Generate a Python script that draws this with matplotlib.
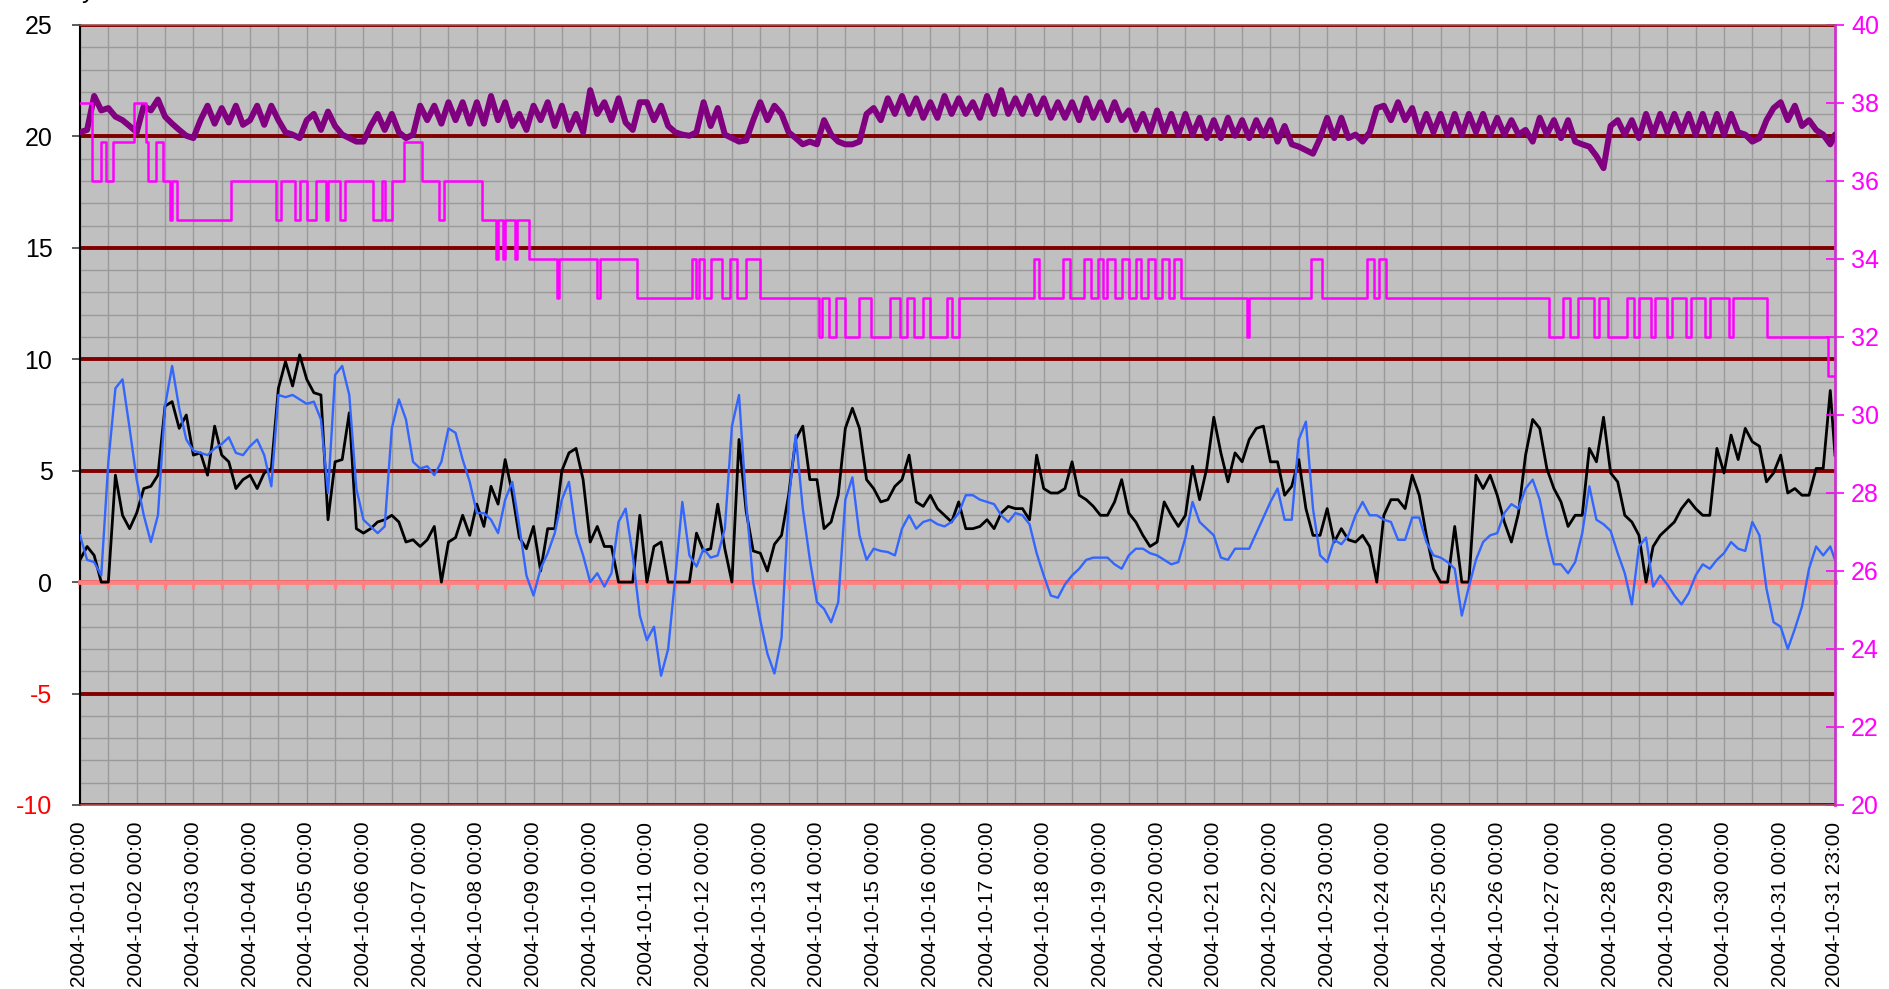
import numpy as np
import matplotlib
matplotlib.use('Agg')
import matplotlib.pyplot as plt
from matplotlib.ticker import MultipleLocator, FixedLocator
import pandas as pd

plt.rcParams['font.family'] = ['Liberation Sans', 'DejaVu Sans']

# ---------------- data (hours since 2004-10-01 00:00) ----------------
hours = list(range(0, 744, 3)) + [743]

black = [1.0, 1.6, 1.2, 0, 0, 4.8, 3.0, 2.4, 3.1, 4.2, 4.3, 4.8, 7.9, 8.1, 6.9, 7.5, 5.7, 5.8, 4.8, 7.0,
         5.7, 5.4, 4.2, 4.6, 4.8, 4.2, 4.9, 5.1, 8.7, 9.9, 8.8, 10.2, 9.1, 8.5, 8.4, 2.8, 5.4, 5.5, 7.6, 2.4,
         2.2, 2.4, 2.7, 2.8, 3.0, 2.7, 1.8, 1.9, 1.6, 1.9,
         2.5, 0, 1.8, 2.0, 3.0, 2.1, 3.5, 2.5, 4.3, 3.5, 5.5, 4.0, 2.0, 1.5, 2.5, 0.5, 2.4, 2.4, 5.0, 5.8,
         6.0, 4.6, 1.8, 2.5, 1.6, 1.6, 0, 0, 0, 3.0, 0, 1.6, 1.8, 0, 0, 0, 0, 2.2, 1.4, 1.5,
         3.5, 1.5, 0, 6.4, 3.2, 1.4, 1.3, 0.5, 1.7,
         2.1, 3.9, 6.4, 7.0, 4.6, 4.6, 2.4, 2.7, 3.9, 6.9, 7.8, 6.9, 4.6, 4.2, 3.6, 3.7, 4.3, 4.6, 5.7, 3.6,
         3.4, 3.9, 3.3, 3.0, 2.7, 3.6, 2.4, 2.4, 2.5, 2.8, 2.4, 3.1, 3.4, 3.3, 3.3, 2.8, 5.7, 4.2, 4.0, 4.0,
         4.2, 5.4, 3.9, 3.7, 3.4, 3.0, 3.0, 3.6, 4.6, 3.1,
         2.7, 2.1, 1.6, 1.8, 3.6, 3.0, 2.5, 3.0, 5.2, 3.7, 5.1, 7.4, 5.8, 4.5, 5.8, 5.4, 6.4, 6.9, 7.0, 5.4,
         5.4, 3.9, 4.3, 5.5, 3.3, 2.1, 2.1, 3.3, 1.8, 2.4, 1.9, 1.8, 2.1, 1.6, 0, 3.0, 3.7, 3.7, 3.3, 4.8,
         3.9, 2.1, 0.6, 0, 0, 2.5, 0, 0, 4.8,
         4.2, 4.8, 3.9, 2.7, 1.8, 3.1, 5.7, 7.3, 6.9, 5.1, 4.2, 3.6, 2.5, 3.0, 3.0, 6.0, 5.4, 7.4, 4.9, 4.5,
         3.0, 2.7, 2.1, 0, 1.6, 2.1, 2.4, 2.7, 3.3, 3.7, 3.3, 3.0, 3.0, 6.0, 4.9, 6.6, 5.5, 6.9, 6.3, 6.1,
         4.5, 4.9, 5.7, 4.0, 4.2, 3.9, 3.9, 5.1, 5.1, 8.6, 5.7]

blue = [2.1, 1.0, 0.9, 0.3, 5.4, 8.7, 9.1, 6.9, 4.6, 3.0, 1.8, 3.0, 7.9, 9.7, 7.8, 6.4, 5.9, 5.8, 5.7, 6.0,
        6.2, 6.5, 5.8, 5.7, 6.1, 6.4, 5.7, 4.3, 8.4, 8.3, 8.4, 8.2, 8.0, 8.1, 7.3, 4.0, 9.3, 9.7, 8.4, 4.2,
        2.8, 2.5, 2.2, 2.5, 6.9, 8.2, 7.3, 5.4, 5.1, 5.2,
        4.8, 5.4, 6.9, 6.7, 5.5, 4.5, 3.1, 3.1, 2.8, 2.2, 3.7, 4.5, 2.5, 0.3, -0.6, 0.6, 1.3, 2.2, 3.7, 4.5,
        2.2, 1.2, 0.0, 0.4, -0.2, 0.4, 2.7, 3.3, 1.2, -1.5, -2.6, -2.0, -4.2, -3.0, 0.2, 3.6, 1.2, 0.7, 1.5, 1.1,
        1.2, 2.4, 7.0, 8.4, 3.6, 0.0, -1.7, -3.2, -4.1,
        -2.5, 3.6, 6.6, 3.3, 1.0, -0.9, -1.2, -1.8, -0.9, 3.7, 4.7, 2.1, 1.0, 1.5, 1.4, 1.35, 1.2, 2.4, 3.0, 2.4,
        2.7, 2.8, 2.6, 2.5, 2.7, 3.1, 3.9, 3.9, 3.7, 3.6, 3.5, 3.0, 2.7, 3.1, 3.0, 2.6, 1.3, 0.3, -0.6, -0.7,
        -0.1, 0.3, 0.6, 1.0, 1.1, 1.1, 1.1, 0.8, 0.6, 1.2,
        1.5, 1.5, 1.3, 1.2, 1.0, 0.8, 0.9, 2.0, 3.6, 2.7, 2.4, 2.1, 1.1, 1.0, 1.5, 1.5, 1.5, 2.2, 2.9, 3.6,
        4.2, 2.8, 2.8, 6.4, 7.2, 3.3, 1.2, 0.9, 1.9, 1.7, 2.1, 3.0, 3.6, 3.0, 3.0, 2.8, 2.7, 1.9, 1.9, 2.9,
        2.9, 1.8, 1.2, 1.1, 0.9, 0.6, -1.5, -0.2, 1.0,
        1.8, 2.1, 2.2, 3.1, 3.5, 3.3, 4.2, 4.6, 3.7, 2.1, 0.8, 0.8, 0.4, 0.9, 2.2, 4.3, 2.8, 2.6, 2.3, 1.3,
        0.4, -1.0, 1.6, 2.0, -0.2, 0.3, -0.1, -0.6, -1.0, -0.5, 0.3, 0.8, 0.6, 1.0, 1.3, 1.8, 1.5, 1.4, 2.7, 2.1,
        -0.3, -1.8, -2.0, -3.0, -2.1, -1.1, 0.6, 1.6, 1.2, 1.6, 1.0]

# right-axis series, same 3-hour sampling
purple = [37.25, 37.31, 38.18, 37.81, 37.87, 37.65, 37.56, 37.41,
          37.25, 37.93, 37.81, 38.09, 37.65, 37.47, 37.31, 37.16,
          37.10, 37.56, 37.93, 37.47, 37.87, 37.50, 37.93, 37.44,
          37.56, 37.93, 37.44, 37.93, 37.56, 37.25, 37.19, 37.10,
          37.56, 37.72, 37.31, 37.78, 37.41, 37.19, 37.10, 37.01,
          37.01, 37.41, 37.72, 37.31, 37.72, 37.25, 37.10, 37.19,
          37.93, 37.56, 37.93, 37.47, 38.02, 37.56, 38.02, 37.47,
          38.02, 37.47, 38.18, 37.56, 38.02, 37.41, 37.72, 37.31,
          37.93, 37.56, 38.02, 37.41, 37.93, 37.31, 37.72, 37.25,
          38.33, 37.72, 38.02, 37.56, 38.12, 37.50, 37.31, 38.02,
          38.02, 37.56, 37.93, 37.41, 37.25, 37.19, 37.16, 37.25,
          38.02, 37.41, 37.87, 37.19, 37.10, 37.01, 37.04, 37.56,
          38.02, 37.56, 37.93, 37.72, 37.25, 37.10, 36.94, 37.01,
          36.94, 37.56, 37.19, 37.01, 36.94, 36.94, 37.01, 37.72,
          37.87, 37.56, 38.12, 37.72, 38.18, 37.72, 38.12, 37.62,
          38.02, 37.62, 38.18, 37.72, 38.12, 37.72, 38.02, 37.62,
          38.18, 37.72, 38.33, 37.72, 38.12, 37.72, 38.18, 37.72,
          38.12, 37.62, 38.02, 37.62, 38.02, 37.56, 38.12, 37.62,
          38.02, 37.56, 38.02, 37.56, 37.81, 37.31, 37.72, 37.25,
          37.81, 37.25, 37.72, 37.19, 37.72, 37.19, 37.62, 37.10,
          37.56, 37.10, 37.62, 37.16, 37.56, 37.10, 37.56, 37.16,
          37.56, 37.01, 37.41, 36.94, 36.88, 36.79, 36.70, 37.10,
          37.62, 37.10, 37.62, 37.10, 37.19, 37.01, 37.25, 37.87,
          37.93, 37.56, 38.02, 37.56, 37.87, 37.25, 37.72, 37.25,
          37.72, 37.19, 37.72, 37.19, 37.72, 37.25, 37.72, 37.19,
          37.62, 37.19, 37.56, 37.19, 37.31, 37.01, 37.62, 37.19,
          37.56, 37.10, 37.56, 37.01, 36.94, 36.88, 36.64, 36.33,
          37.41, 37.56, 37.19, 37.56, 37.10, 37.72, 37.19, 37.72,
          37.25, 37.72, 37.25, 37.72, 37.19, 37.72, 37.19, 37.72,
          37.19, 37.72, 37.25, 37.19, 37.01, 37.10, 37.56, 37.87,
          38.02, 37.56, 37.93, 37.41, 37.56, 37.31, 37.19, 36.94,
          37.19]

# step series: hour at which each level starts
magenta_start = [0, 5, 9, 11, 14, 23, 28, 29, 32, 35, 38, 39, 41, 64, 83, 85, 91, 93, 96, 100,
                 104, 105, 110, 112, 124, 128, 129, 132, 137, 145, 152, 154, 170, 176, 177, 179, 180, 184, 185, 190,
                 202, 203, 219, 220, 236, 259, 261, 262, 264, 267, 272, 275, 278, 282, 288, 313, 314, 317, 320, 324,
                 330, 335, 343, 347, 350, 353, 357, 360, 367, 369, 372, 404, 406, 416, 419, 425, 428, 431, 433, 435,
                 438, 441, 444, 447, 449, 452, 455, 458, 461, 463, 466, 494, 495, 521, 526, 545, 548, 550, 553, 622,
                 628, 631, 634, 641, 643, 647, 655, 658, 660, 665, 667, 672, 674, 680, 682, 688, 690, 698, 700, 714,
                 740]
magenta_level = [38, 36, 37, 36, 37, 38, 37, 36, 37, 36, 35, 36, 35, 36, 35, 36, 35, 36, 35, 36,
                 35, 36, 35, 36, 35, 36, 35, 36, 37, 36, 35, 36, 35, 34, 35, 34, 35, 34, 35, 34,
                 33, 34, 33, 34, 33, 34, 33, 34, 33, 34, 33, 34, 33, 34, 33, 32, 33, 32, 33, 32,
                 33, 32, 33, 32, 33, 32, 33, 32, 33, 32, 33, 34, 33, 34, 33, 34, 33, 34, 33, 34,
                 33, 34, 33, 34, 33, 34, 33, 34, 33, 34, 33, 32, 33, 34, 33, 34, 33, 34, 33, 32,
                 33, 32, 33, 32, 33, 32, 33, 32, 33, 32, 33, 32, 33, 32, 33, 32, 33, 32, 33, 32,
                 31]

start = pd.Timestamp('2004-10-01 00:00')
day_ticks = list(range(0, 744, 24)) + [743]
day_labels = [(start + pd.Timedelta(hours=h)).strftime('%Y-%m-%d %H:%M') for h in day_ticks]
left_ticks = [-10, -5, 0, 5, 10, 15, 20, 25]
right_ticks = list(range(20, 41, 2))

# ---------------- figure ----------------
W, H = 1890, 989
fig = plt.figure(figsize=(W / 100, H / 100), dpi=100)
ax = fig.add_axes([80 / W, 1 - 805 / H, 1755 / W, 780 / H])
ax.set_facecolor('#C0C0C0')
ax.set_xlim(0, 743)
ax.set_ylim(-10, 25)
ax.set_axisbelow(True)

ax.xaxis.set_major_locator(MultipleLocator(12))
ax.yaxis.set_major_locator(FixedLocator(left_ticks))
ax.yaxis.set_minor_locator(MultipleLocator(1))
ax.grid(axis='x', which='major', color='#9A9A9A', lw=1.0)
ax.grid(axis='y', which='minor', color='#9A9A9A', lw=1.0)
ax.grid(axis='y', which='major', color='#800000', lw=2.8)

ax.spines['bottom'].set_position(('data', 0))
ax.spines['bottom'].set_color('#FF8080')
ax.spines['bottom'].set_linewidth(3.4)
ax.spines['top'].set_visible(False)
ax.spines['right'].set_visible(False)
ax.spines['left'].set_color('black')
ax.spines['left'].set_linewidth(1.5)
ax.tick_params(axis='x', which='major', direction='out', length=5, width=2.4,
               color='#FF8080', labelbottom=False)
ax.tick_params(axis='y', which='major', direction='out', length=5.8, width=1.2,
               color='#404040', labelsize=18, pad=14)
ax.tick_params(axis='y', which='minor', length=0)
ax.set_yticklabels([str(v) for v in left_ticks])
for lbl, v in zip(ax.get_yticklabels(), left_ticks):
    lbl.set_color('#FF0000' if v < 0 else 'black')

sec = ax.secondary_xaxis('bottom')
sec.set_xticks(day_ticks)
sec.set_xticklabels(day_labels)
sec.tick_params(length=0, labelsize=15, pad=12, labelrotation=90)
sec.spines['bottom'].set_visible(False)

ax.plot(hours, black, color='black', lw=2.0, zorder=3)
ax.plot(hours, blue, color='#3366FF', lw=1.7, zorder=4)

ax2 = ax.twinx()
ax2.set_ylim(20, 40)
ax2.set_yticks(right_ticks)
ax2.tick_params(axis='y', direction='inout', length=13, width=1.2, color='#FF00FF',
                labelcolor='#FF00FF', labelsize=18, pad=5)
ax2.spines['right'].set_color('#CC33CC')
ax2.spines['right'].set_linewidth(2)
ax2.spines['left'].set_visible(False)
for s in ('top', 'bottom'):
    ax2.spines[s].set_color('#A05050')
    ax2.spines[s].set_linewidth(1.2)

ax2.plot(hours, purple, color='#800080', lw=4.3, solid_joinstyle='round',
         solid_capstyle='round', zorder=3)
mx = magenta_start + [743]
my = magenta_level + [magenta_level[-1]]
ax2.step(mx, my, where='post', color='#FF00FF', lw=1.8, zorder=4)

fig.text(82 / W, 1 + 2 / H, 'y', fontsize=18, va='baseline', ha='left')

fig.savefig('out.png', dpi=100)
